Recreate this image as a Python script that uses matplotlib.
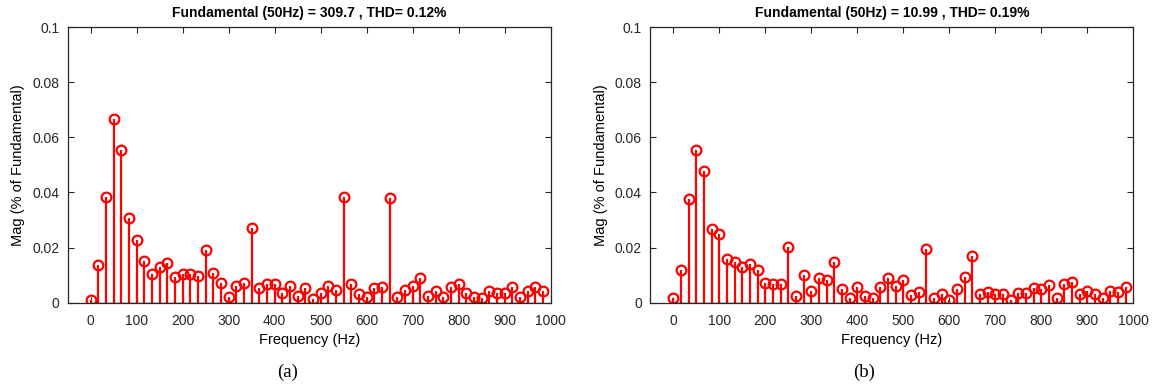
import numpy as np
import matplotlib
matplotlib.use("Agg")
import matplotlib.pyplot as plt

plt.rcParams["font.family"] = ["Liberation Sans", "DejaVu Sans"]

# frequency bins: 50/3 Hz spacing, 0 .. 983.3 Hz
freq = np.arange(60) * 50.0 / 3.0

# magnitudes (% of fundamental)
mag_a = [0.001, 0.0135, 0.0385, 0.0665, 0.0553, 0.0308, 0.0227, 0.0153, 0.0104, 0.0131,
         0.0143, 0.0092, 0.0104, 0.0104, 0.0097, 0.0193, 0.0108, 0.0073, 0.0022, 0.0062,
         0.0072, 0.0270, 0.0052, 0.0067, 0.0069, 0.0034, 0.0062, 0.0025, 0.0055, 0.0013,
         0.0034, 0.0062, 0.0047, 0.0383, 0.0069, 0.0032, 0.0019, 0.0052, 0.0057, 0.0379,
         0.0019, 0.0047, 0.0062, 0.0088, 0.0024, 0.0042, 0.0019, 0.0056, 0.0067, 0.0034,
         0.0022, 0.0016, 0.0042, 0.0036, 0.0034, 0.0056, 0.0019, 0.0044, 0.0056, 0.0042]

mag_b = [0.0018, 0.0120, 0.0376, 0.0555, 0.0478, 0.0268, 0.0250, 0.0157, 0.0148, 0.0129,
         0.0139, 0.0120, 0.0073, 0.0068, 0.0068, 0.0201, 0.0023, 0.0101, 0.0043, 0.0091,
         0.0084, 0.0149, 0.0051, 0.0016, 0.0057, 0.0024, 0.0018, 0.0057, 0.0089, 0.0061,
         0.0082, 0.0028, 0.0038, 0.0194, 0.0018, 0.0030, 0.0010, 0.0051, 0.0094, 0.0171,
         0.0030, 0.0039, 0.0030, 0.0033, 0.0010, 0.0036, 0.0037, 0.0055, 0.0051, 0.0063,
         0.0016, 0.0067, 0.0076, 0.0030, 0.0043, 0.0033, 0.0018, 0.0043, 0.0039, 0.0057]

titles = ["Fundamental (50Hz) = 309.7 , THD= 0.12%",
          "Fundamental (50Hz) = 10.99 , THD= 0.19%"]
captions = ["(a)", "(b)"]

fig = plt.figure(figsize=(11.52, 3.87), dpi=100)
lefts = [67.7 / 1152, 650.3 / 1152]
axc = "#262626"

for i, mag in enumerate([mag_a, mag_b]):
    ax = fig.add_axes([lefts[i], 0.2178, 483 / 1152, 0.7124])
    ml, sl, bl = ax.stem(freq, mag, basefmt="k-")
    plt.setp(sl, color="#ff0000", linewidth=1.6)
    plt.setp(ml, color="#ff0000", marker="o", markersize=7,
             markerfacecolor="none", markeredgewidth=1.6)
    plt.setp(bl, color="black", linewidth=1)

    ax.set_xlim(-50, 1000)
    ax.set_ylim(0, 0.1)
    ax.set_xticks(np.arange(0, 1001, 100))
    ax.set_yticks([0, 0.02, 0.04, 0.06, 0.08, 0.1])
    ax.set_yticklabels(["0", "0.02", "0.04", "0.06", "0.08", "0.1"])
    ax.tick_params(direction="in", top=True, right=True, length=4,
                   labelsize=10, colors=axc, labelcolor="#262626")
    ax.tick_params(axis="x", pad=8)
    ax.tick_params(axis="y", pad=6)
    for sp in ax.spines.values():
        sp.set_color(axc)
        sp.set_linewidth(0.9)

    ax.set_title(titles[i], fontsize=10, fontweight="bold", pad=7)
    ax.set_xlabel("Frequency (Hz)", fontsize=10.5, labelpad=4)
    ax.set_ylabel("Mag (% of Fundamental)", fontsize=10.5, labelpad=5)

    fig.text(0.25 + 0.5 * i, 0.038, captions[i], ha="center", va="center",
             fontsize=13.5, family=["Liberation Serif", "DejaVu Serif"])

fig.savefig("out.png", dpi=100)
